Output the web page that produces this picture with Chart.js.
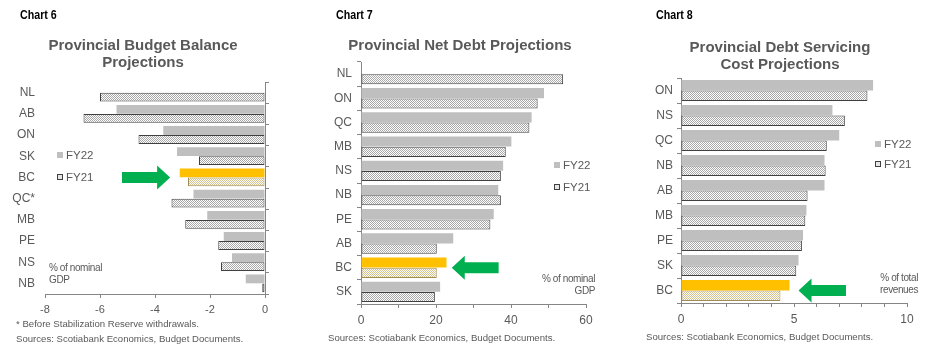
<!DOCTYPE html>
<html>
<head>
<meta charset="utf-8">
<script src="https://cdn.jsdelivr.net/npm/chart.js@4.4.1/dist/chart.umd.min.js"></script>
<style>
body{margin:0;background:#fff;}
#wrap{position:relative;width:926px;height:352px;overflow:hidden;font-family:"Liberation Sans",Arial,sans-serif;}
canvas{position:absolute;top:0;}
.t{position:absolute;white-space:nowrap;}
.hd{font-family:"Liberation Sans",sans-serif;font-weight:bold;font-size:13px;color:#000;line-height:16px;transform:scaleX(0.82);transform-origin:0 0;}
.ti{font-weight:bold;font-size:15px;color:#595959;line-height:17px;text-align:center;}
.src{font-size:9.6px;color:#595959;line-height:12px;}
.lg{font-size:11.5px;color:#595959;line-height:14px;}
.sw{display:inline-block;width:6px;height:6px;margin-right:3px;vertical-align:1px;background:#bfbfbf;}
.sw.p{width:4px;height:4px;border:1px solid #404040;background:#e6e6e6;}
.unit{font-size:10px;color:#595959;line-height:12px;letter-spacing:-0.4px;}
.r{text-align:right;}
</style>
</head>
<body>
<div id="wrap">
  <canvas id="c6" width="300" height="352" style="left:0px"></canvas>
  <canvas id="c7" width="310" height="352" style="left:310px"></canvas>
  <canvas id="c8" width="306" height="352" style="left:620px"></canvas>

  <div class="t hd" style="left:20px;top:7px">Chart 6</div>
  <div class="t ti" style="left:33px;top:36px;width:220px">Provincial Budget Balance<br>Projections</div>
  <div class="t lg" style="left:57px;top:148px"><span class="sw"></span>FY22</div>
  <div class="t lg" style="left:57px;top:170px"><span class="sw p"></span>FY21</div>
  <div class="t unit" style="left:49px;top:262px">% of nominal<br>GDP</div>
  <div class="t src" style="left:16px;top:318px">* Before Stabilization Reserve withdrawals.</div>
  <div class="t src" style="left:16px;top:333px">Sources: Scotiabank Economics, Budget Documents.</div>

  <div class="t hd" style="left:336px;top:7px">Chart 7</div>
  <div class="t ti" style="left:330px;top:36px;width:260px">Provincial Net Debt Projections</div>
  <div class="t lg" style="left:554px;top:158px"><span class="sw"></span>FY22</div>
  <div class="t lg" style="left:554px;top:180px"><span class="sw p"></span>FY21</div>
  <div class="t unit r" style="left:495px;top:273px;width:100px">% of nominal<br>GDP</div>
  <div class="t src" style="left:328px;top:332px">Sources: Scotiabank Economics, Budget Documents.</div>

  <div class="t hd" style="left:656px;top:7px">Chart 8</div>
  <div class="t ti" style="left:670px;top:38px;width:220px">Provincial Debt Servicing<br>Cost Projections</div>
  <div class="t lg" style="left:875px;top:137px"><span class="sw"></span>FY22</div>
  <div class="t lg" style="left:875px;top:157px"><span class="sw p"></span>FY21</div>
  <div class="t unit r" style="left:818px;top:272px;width:100px">% of total<br>revenues</div>
  <div class="t src" style="left:646px;top:331px">Sources: Scotiabank Economics, Budget Documents.</div>
</div>

<script>
// Chart 6 - budget balance, % of nominal GDP
const cats6 = ['NL', 'AB', 'ON', 'SK', 'BC', 'QC*', 'MB', 'PE', 'NS', 'NB'];
const fy22_6 = [null, -5.4, -3.7, -3.2, -3.1, -2.6, -2.1, -1.5, -1.2, -0.7];
const fy21_6 = [-6.0, -6.6, -4.6, -2.4, -2.8, -3.4, -2.9, -1.7, -1.6, -0.1];
const ticks6 = [-8, -6, -4, -2, 0];

// Chart 7 - net debt, % of nominal GDP
const cats7 = ['NL', 'ON', 'QC', 'MB', 'NS', 'NB', 'PE', 'AB', 'BC', 'SK'];
const fy22_7 = [null, 48.8, 45.5, 40.1, 37.9, 36.6, 35.4, 24.6, 22.8, 21.1];
const fy21_7 = [53.9, 47.1, 44.9, 38.6, 37.3, 37.3, 34.5, 20.2, 20.2, 19.7];
const labels7 = [0, 20, 40, 60];

// Chart 8 - debt servicing cost, % of total revenues
const cats8 = ['ON', 'NS', 'QC', 'NB', 'AB', 'MB', 'PE', 'SK', 'BC'];
const fy22_8 = [8.5, 6.7, 7.0, 6.35, 6.35, 5.55, 5.4, 5.2, 4.8];
const fy21_8 = [8.25, 7.25, 6.45, 6.4, 5.6, 5.5, 5.35, 5.1, 4.4];
const labels8 = [0, 5, 10];

const GREY = '#bfbfbf', GOLD = '#ffc000', TXT = '#595959', AXIS = '#868686';

// checker of small dots for the FY21 bars
function dots(ctx, c) {
  const p = document.createElement('canvas');
  p.width = 2; p.height = 2;
  const g = p.getContext('2d');
  g.fillStyle = '#fff'; g.fillRect(0, 0, 2, 2);
  g.fillStyle = c; g.fillRect(0, 0, 1, 1); g.fillRect(1, 1, 1, 1);
  return ctx.createPattern(p, 'repeat');
}

// green arrow pointing at BC
const arrowPlugin = {
  id: 'arrow',
  afterDatasetsDraw(chart, args, o) {
    const ctx = chart.ctx;
    const x0 = chart.scales.x.getPixelForValue(o.tail);
    const x1 = chart.scales.x.getPixelForValue(o.tip);
    const yc = chart.scales.y.getPixelForValue(o.row);
    const d = Math.sign(x1 - x0), hl = 13, sh = 5.5, hh = 12;
    const xb = x1 - d * hl;
    ctx.save();
    ctx.fillStyle = '#00b050';
    ctx.beginPath();
    ctx.moveTo(x0, yc - sh);
    ctx.lineTo(xb, yc - sh);
    ctx.lineTo(xb, yc - hh);
    ctx.lineTo(x1, yc);
    ctx.lineTo(xb, yc + hh);
    ctx.lineTo(xb, yc + sh);
    ctx.lineTo(x0, yc + sh);
    ctx.closePath();
    ctx.fill();
    ctx.restore();
  }
};

function makeChart(id, cats, a, b, opt) {
  const ctx = document.getElementById(id).getContext('2d');
  const pat = dots(ctx, '#a8a8a8');
  const patBC = dots(ctx, '#d4c08a');
  const bc = cats.indexOf('BC');

  const scales = {
    x: {
      min: opt.min, max: opt.max,
      grid: { drawOnChartArea: false, tickLength: 4, color: AXIS },
      border: { color: AXIS },
      ticks: {
        stepSize: opt.step, padding: 5, color: TXT,
        font: { family: 'Liberation Sans', size: opt.tickSize },
        callback: v => opt.labels.includes(v) ? v : ''
      },
      afterBuildTicks: opt.ticks ? (s => { s.ticks = opt.ticks.map(v => ({ value: v })); }) : undefined,
      afterFit: s => { s.height = 20; }
    }
  };

  if (opt.rightAxis) {
    // value axis line sits at 0 on the right, labels stay on the left
    scales.y = {
      position: 'right', offset: true,
      grid: { drawOnChartArea: false, tickLength: 4, color: AXIS, offset: true },
      border: { color: AXIS },
      ticks: { display: false },
      afterFit: s => { s.width = 5; }
    };
    scales.y2 = {
      type: 'category', position: 'left', offset: true,
      grid: { display: false, drawTicks: false },
      border: { display: false },
      ticks: { padding: 10, color: TXT, font: { family: 'Liberation Sans', size: 12 } },
      afterFit: s => { s.width = opt.yw; }
    };
  } else {
    scales.y = {
      position: 'left', offset: true,
      grid: { drawOnChartArea: false, tickLength: 4, color: AXIS, offset: true },
      border: { color: AXIS },
      ticks: { padding: opt.labPad, color: TXT, font: { family: 'Liberation Sans', size: 12 } },
      afterFit: s => { s.width = opt.yw; }
    };
  }

  return new Chart(ctx, {
    type: 'bar',
    data: {
      labels: cats,
      datasets: [{
        label: 'FY22',
        data: a,
        backgroundColor: cats.map((c, i) => i === bc ? GOLD : GREY),
        borderWidth: 0,
        categoryPercentage: 0.85,
        barPercentage: 0.98
      }, {
        label: 'FY21',
        data: b,
        backgroundColor: cats.map((c, i) => i === bc ? patBC : pat),
        borderColor: cats.map((c, i) => i === bc ? '#a08c50' : '#404040'),
        borderWidth: 1,
        borderSkipped: false,
        categoryPercentage: 0.85,
        barPercentage: 0.98
      }]
    },
    options: {
      indexAxis: 'y',
      responsive: false,
      animation: false,
      devicePixelRatio: 1,
      layout: { padding: opt.pad },
      plugins: {
        legend: { display: false },
        tooltip: { enabled: false },
        arrow: { tail: opt.arrow[0], tip: opt.arrow[1], row: bc }
      },
      scales: scales
    },
    plugins: [arrowPlugin]
  });
}

makeChart('c6', cats6, fy22_6, fy21_6, {
  min: -8, max: 0, step: 2, labels: ticks6, ticks: ticks6, tickSize: 11,
  rightAxis: true, yw: 45,
  pad: { left: 0, right: 30, top: 82, bottom: 38 },
  arrow: [-5.2, -3.45]
});

makeChart('c7', cats7, fy22_7, fy21_7, {
  min: 0, max: 60, step: 10, labels: labels7, tickSize: 12,
  yw: 51, labPad: 5,
  pad: { left: 0, right: 34, top: 62, bottom: 28 },
  arrow: [36.7, 24.2]
});

makeChart('c8', cats8, fy22_8, fy21_8, {
  min: 0, max: 10, step: 1, labels: labels8, tickSize: 12,
  yw: 61, labPad: 4,
  pad: { left: 0, right: 19, top: 78, bottom: 29 },
  arrow: [7.3, 5.2]
});
</script>
</body>
</html>
